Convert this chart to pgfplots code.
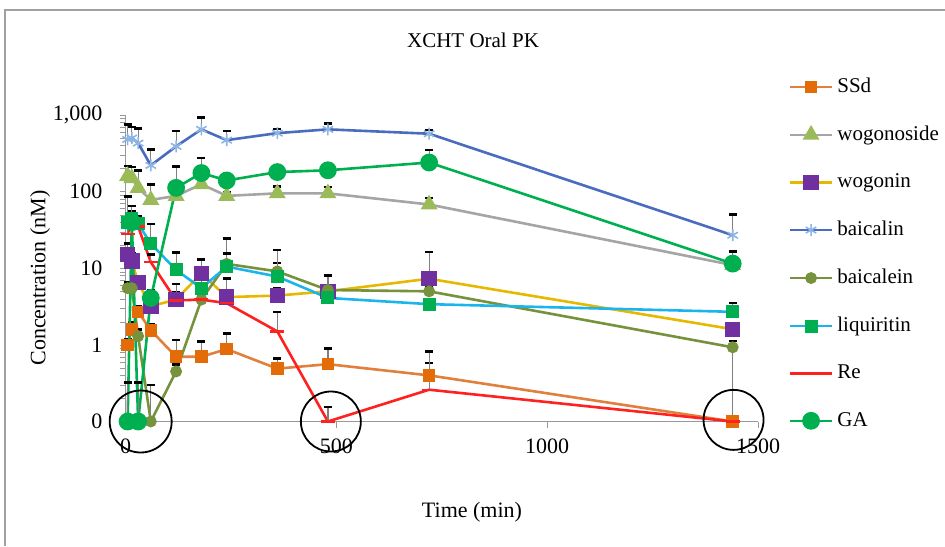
\documentclass[border=0pt]{standalone}
\usepackage{fontspec}
\setmainfont{Liberation Serif}
\usepackage{pgfplots}
\usepackage{pgfplotstable}
\pgfplotsset{compat=1.18}

\definecolor{ssdLine}{HTML}{E0803C}
\definecolor{ssdMark}{HTML}{E36C09}
\definecolor{wgsLine}{HTML}{A5A5A5}
\definecolor{wgsMark}{HTML}{9BBB59}
\definecolor{wgnLine}{HTML}{E6B800}
\definecolor{wgnMark}{HTML}{7030A0}
\definecolor{bcnLine}{HTML}{4A6CBF}
\definecolor{bcnMark}{HTML}{8DB4E2}
\definecolor{bclLine}{HTML}{76923C}
\definecolor{lqtLine}{HTML}{1CB4EC}
\definecolor{lqtMark}{HTML}{00B050}
\definecolor{reLine}{HTML}{FF2020}
\definecolor{gaLine}{HTML}{00B050}
\definecolor{frameGray}{HTML}{A0A0A0}

% t = time (min), v = mean conc (nM), e = upper error
\pgfplotstableread{
t v e
5 1.0 0.2
15 1.6 0.4
30 2.7 0.5
60 1.55 0.3
120 0.70 0.46
180 0.70 0.40
240 0.88 0.53
360 0.49 0.18
480 0.56 0.34
720 0.40 0.18
1440 0.1 0.8
}\ssd
\pgfplotstableread{
t v e
5 160 55
15 150 60
30 112 78
60 78 45
120 88 10
180 125 90
240 88 10
360 95 21
480 95 20
720 68 15
1440 11 2
}\wogonoside
\pgfplotstableread{
t v e
5 15 6
15 12.5 3
30 6.5 1
60 3.2 1
120 3.9 1
180 8.6 4.4
240 4.2 1
360 4.4 1
480 5.0 1
720 7.3 9
1440 1.6 0.3
}\wogonin
\pgfplotstableread{
t v e
5 480 270
15 500 200
30 430 240
60 220 135
120 390 225
180 650 280
240 470 145
360 580 75
480 650 120
720 570 70
1440 27 23
}\baicalin
\pgfplotstableread{
t v e
5 5.5 1
15 5.5 1
30 1.3 0.3
60 0.1 0.2
120 0.45 0.1
180 3.9 0.5
240 11.4 13
360 9.1 2.6
480 5.2 3
720 5.0 1
1440 0.93 0.2
}\baicalein
\pgfplotstableread{
t v e
5 40 47
15 45 10
30 38 10
60 21 17
120 9.5 6.5
180 5.5 2
240 10.5 5
360 7.8 9.5
480 4.1 4
720 3.4 0.5
1440 2.7 0.8
}\liquiritin
\pgfplotstableread{
t v e
5 28 10
15 40 25
30 35 5
60 12 3
120 3.8 2.4
180 3.9 1
240 3.5 3.9
360 1.5 1.2
480 0.1 0.055
720 0.26 0.56
1440 0.1 0
}\re
\pgfplotstableread{
t v e
5 0.1 0.22
15 40 10
30 0.1 0.22
60 4.1 1
120 112 100
180 175 100
240 140 20
360 180 15
480 190 15
720 240 110
1440 11.5 5
}\ga

\begin{document}
\begin{tikzpicture}
\path[use as bounding box] (0,0) rectangle (472.5pt,273pt);
\draw[frameGray,line width=1pt] (2.5pt,0pt) -- (2.5pt,268pt) -- (472.5pt,268pt);
\begin{axis}[
  scale only axis,width=316.25pt,height=153.25pt,
  at={(62.75pt,62.25pt)},anchor=south west,
  ymode=log,xmin=0,xmax=1500,ymin=0.1,ymax=1000,
  axis x line=bottom,axis y line=left,
  axis line style={-,draw=gray!80},
  xtick={0,500,1000,1500},
  /pgf/number format/1000 sep={},
  ytick={0.1,1,10,100,1000},yticklabels={0,1,10,100,{1,000}},
  minor ytick={},tick align=outside,major tick length=3pt,
  tick style={gray!80},
  ticklabel style={font=\fontsize{11}{12}\selectfont},
  /pgf/number format/assume math mode=true,
  xticklabel style={yshift=-2pt},
  yticklabel style={xshift=-5pt},
  clip=false,
  legend image code/.code={\draw[mark repeat=2,mark phase=2,#1] plot coordinates {(0pt,0pt)(10.5pt,0pt)(21pt,0pt)};},
  legend style={at={(1.048,1.135)},anchor=north west,draw=none,fill=none,
    font=\fontsize{10.5}{12}\selectfont,row sep=11.2pt,inner sep=0pt,
    /tikz/every even column/.style={column sep=1pt}},
  legend cell align=left,
  every axis plot/.append style={line width=1.3pt},
  error bars/y dir=plus,error bars/y explicit,
  error bars/error bar style={gray,line width=0.6pt},
  error bars/error mark options={black,line width=1.3pt,mark size=2pt,rotate=90},
]
\addplot[ssdLine,mark=square*,mark size=2.5pt,mark options={fill=ssdMark,draw=ssdMark}]
  table[x=t,y=v,y error=e]{\ssd};
\addlegendentry{SSd}
\addplot[wgsLine,mark=triangle*,mark size=3.6pt,mark options={fill=wgsMark,draw=wgsMark}]
  table[x=t,y=v,y error=e]{\wogonoside};
\addlegendentry{wogonoside}
\addplot[wgnLine,mark=square*,mark size=3.2pt,mark options={fill=wgnMark,draw=wgnMark}]
  table[x=t,y=v,y error=e]{\wogonin};
\addlegendentry{wogonin}
\addplot[bcnLine,mark=asterisk,mark size=3pt,mark options={draw=bcnMark,line width=0.8pt}]
  table[x=t,y=v,y error=e]{\baicalin};
\addlegendentry{baicalin}
\addplot[bclLine,mark=*,mark size=2.3pt,mark options={fill=bclLine,draw=bclLine}]
  table[x=t,y=v,y error=e]{\baicalein};
\addlegendentry{baicalein}
\addplot[lqtLine,mark=square*,mark size=2.6pt,mark options={fill=lqtMark,draw=lqtMark}]
  table[x=t,y=v,y error=e]{\liquiritin};
\addlegendentry{liquiritin}
\addplot[reLine,mark=-,mark size=3.5pt,mark options={draw=reLine,line width=1.2pt}]
  table[x=t,y=v,y error=e]{\re};
\addlegendentry{Re}
\addplot[gaLine,mark=*,mark size=3.8pt,mark options={fill=gaLine,draw=gaLine}]
  table[x=t,y=v,y error=e]{\ga};
\addlegendentry{GA}
\draw[black,line width=0.9pt] (axis cs:36,0.1) circle[radius=15.5pt];
\draw[black,line width=0.9pt] (axis cs:487,0.1) circle[radius=15pt];
\draw[black,line width=0.9pt] (axis cs:1442,0.105) circle[radius=15pt];
\end{axis}
\node[font=\fontsize{10.5}{12}\selectfont] at (236.5pt,253pt) {XCHT Oral PK};
\node[font=\fontsize{11}{13}\selectfont] at (236pt,17pt) {Time (min)};
\node[font=\fontsize{11}{13}\selectfont,rotate=90] at (20pt,134pt) {Concentration (nM)};
\end{tikzpicture}
\end{document}
